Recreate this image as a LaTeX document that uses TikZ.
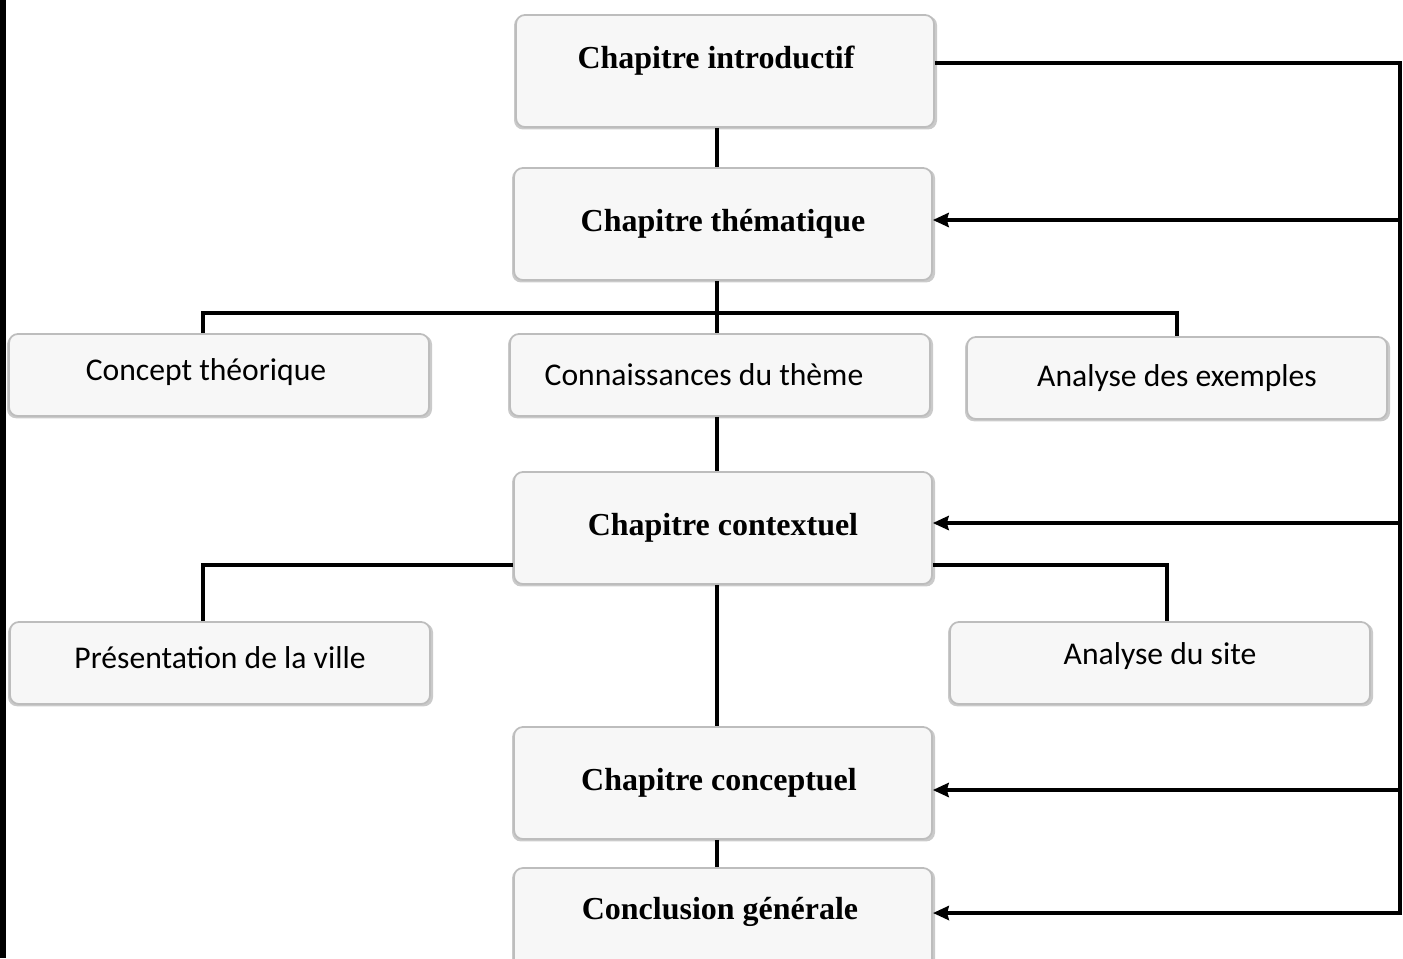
\documentclass[tikz,border=0pt]{standalone}
\usepackage{fontspec}
\setmainfont{Liberation Serif}
\newfontfamily\calibri{Carlito}
\usetikzlibrary{positioning, shadows, arrows.meta}
\definecolor{boxfill}{HTML}{F7F7F7}
\definecolor{boxline}{HTML}{BDBDBD}

\begin{document}
\begin{tikzpicture}[x=0.02cm, y=-0.02cm,
  chap/.style={rounded corners=5pt, draw=boxline, fill=boxfill, line width=1pt,
    drop shadow={shadow xshift=0.3pt, shadow yshift=-1pt, shadow scale=1.012,
      opacity=0.55, fill=gray!75},
    minimum width=8.36cm, minimum height=2.24cm, inner sep=0pt,
    font=\fontsize{18.2}{22}\selectfont\bfseries},
  sub/.style={chap, minimum width=8.4cm, minimum height=1.64cm,
    font=\calibri\fontsize{18}{22}\selectfont},
  wire/.style={draw=black, line width=2.2pt},
  feedback/.style={wire, -{Stealth[length=9pt, width=8pt, inset=1pt]}}]
  \clip (0,0) rectangle (1403,958);
  \fill (0,0) rectangle (6,958);

  % chapitres
  \node[chap, text depth=0.55cm] (intro) at (725,71) {Chapitre introductif\hspace*{0.36cm}};
  \node[chap] (theme) at (723,224) {Chapitre thématique};
  \node[chap] (ctx) at (723,528) {Chapitre contextuel};
  \node[chap] (concep) at (723,783) {Chapitre conceptuel\hspace*{0.16cm}};
  \node[chap, text depth=0.62cm] (concl) at (723,924) {Conclusion générale\hspace*{0.12cm}};

  % sous-parties
  \node[sub, text depth=0.22cm] (concept) at (219,375) {Concept théorique\hspace*{0.52cm}};
  \node[sub] (conn) at (720,375) {Connaissances du thème\hspace*{0.64cm}};
  \node[sub] (exemples) at (1177,378) {Analyse des exemples};
  \node[sub, text depth=0.22cm] (pres) at (220,663) {Présentation de la ville};
  \node[sub, text depth=0.38cm] (site) at (1160,663) {Analyse du site};

  \coordinate (spine) at (717,0);
  \coordinate (fork) at (717,313);
  \coordinate (rail) at (1400,0);

  \draw[wire] (intro.south -| spine) -- (theme.north -| spine);
  \draw[wire] (theme.south -| spine) -- (conn.north -| spine);
  \draw[wire] ([xshift=-0.32cm]concept.north) |- (fork) -| (exemples.north);
  \draw[wire] (conn.south -| spine) -- (ctx.north -| spine);
  \draw[wire] ([yshift=-0.74cm]ctx.west) -| ([xshift=-0.34cm]pres.north);
  \draw[wire] ([yshift=-0.74cm]ctx.east) -| ([xshift=0.14cm]site.north);
  \draw[wire] (ctx.south -| spine) -- (concep.north -| spine);
  \draw[wire] (concep.south -| spine) -- (concl.north -| spine);

  % retours
  \coordinate (last) at (933,913);
  \draw[feedback] ([yshift=0.16cm]intro.east) -| (rail |- last) -- (last);
  \foreach \n/\dy in {theme/0.08cm, ctx/0.1cm, concep/-0.14cm}{
    \coordinate (tip) at ([yshift=\dy]\n.east);
    \draw[feedback] (tip -| rail) -- (tip);
  }
\end{tikzpicture}
\end{document}
